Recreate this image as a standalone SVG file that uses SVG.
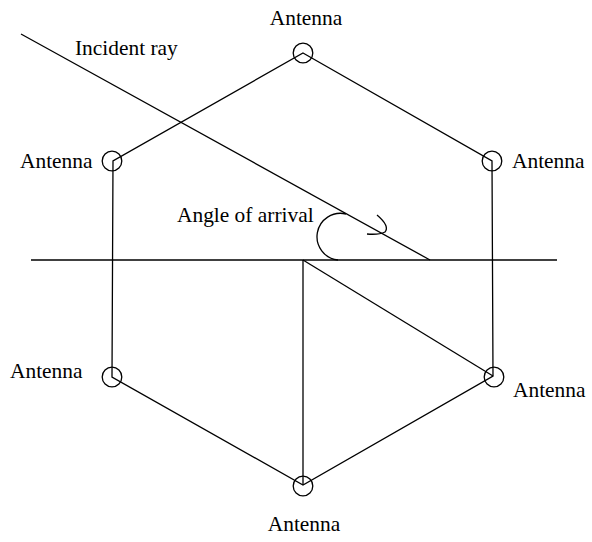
<svg xmlns="http://www.w3.org/2000/svg" width="592" height="542" viewBox="0 0 592 542">
<style>
.ln{fill:none;stroke:#000;stroke-width:1.3}
.ant{fill:none;stroke:#000;stroke-width:1.3}
text{font-family:"Liberation Serif","Times New Roman",serif;font-size:21.4px;fill:#000}
</style>
<rect width="592" height="542" fill="#fff"/>
<g id="connectors">
<path class="ln" d="M303 53 L492 161 L493 376 L303 485 L112 377 L113 161 Z"/>
<line class="ln" x1="31" y1="260" x2="557" y2="260"/>
<line class="ln" x1="21" y1="34" x2="430" y2="260"/>
<line class="ln" x1="303" y1="260" x2="303" y2="485"/>
<line class="ln" x1="303" y1="260" x2="493" y2="376"/>
<path class="ln" d="M346 214 A23.4 23.4 0 1 0 338 260"/>
<path class="ln" d="M377 215 Q390 226 385 232 Q379 235 367 234"/>
</g>
<g id="antenna-top"><circle class="ant" cx="303" cy="53" r="9.8"/><text x="306" y="25" text-anchor="middle">Antenna</text></g>
<g id="antenna-upper-left"><circle class="ant" cx="112" cy="161" r="9.8"/><text x="20" y="168">Antenna</text></g>
<g id="antenna-upper-right"><circle class="ant" cx="492" cy="161" r="9.8"/><text x="512" y="168">Antenna</text></g>
<g id="antenna-lower-left"><circle class="ant" cx="112" cy="377" r="9.8"/><text x="10" y="378">Antenna</text></g>
<g id="antenna-lower-right"><circle class="ant" cx="494" cy="377" r="9.8"/><text x="513" y="397">Antenna</text></g>
<g id="antenna-bottom"><circle class="ant" cx="303" cy="486" r="9.8"/><text x="304" y="531" text-anchor="middle">Antenna</text></g>
<g id="labels">
<text x="75" y="55">Incident ray</text>
<text x="177" y="222">Angle of arrival</text>
</g>
</svg>
